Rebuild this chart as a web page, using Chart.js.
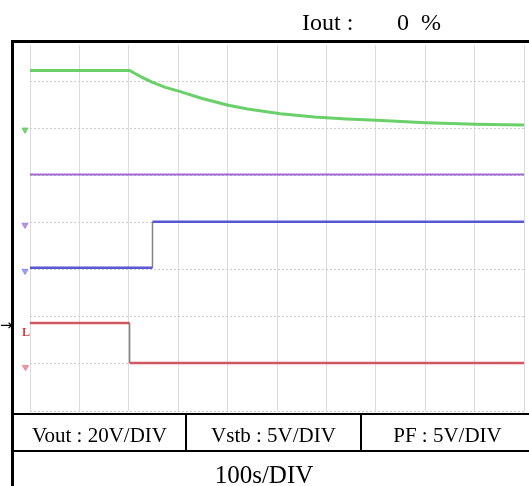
<!DOCTYPE html>
<html><head><meta charset="utf-8">
<script src="https://cdn.jsdelivr.net/npm/chart.js@4/dist/chart.umd.min.js"></script>
<style>
html,body{margin:0;padding:0;background:#fff;}
#wrap{position:relative;width:529px;height:486px;overflow:hidden;font-family:"Liberation Serif","Times New Roman",serif;color:#000;}
#c{position:absolute;left:0;top:0;}
.t{position:absolute;white-space:nowrap;line-height:1;}
.ln{position:absolute;background:#000;}
</style></head><body>
<div id="wrap">
<canvas id="c" width="529" height="486"></canvas>
<div class="ln" style="left:11px;top:40px;width:518px;height:3px"></div>
<div class="ln" style="left:11px;top:40px;width:3px;height:446px"></div>
<div class="ln" style="left:11px;top:413px;width:518px;height:2px"></div>
<div class="ln" style="left:11px;top:450px;width:518px;height:2px"></div>
<div class="ln" style="left:185px;top:413px;width:2px;height:38px"></div>
<div class="ln" style="left:360px;top:413px;width:2px;height:38px"></div>
<div class="t" style="left:302px;top:10px;font-size:24px;">Iout :</div>
<div class="t" style="left:397px;top:10px;font-size:24px;word-spacing:6px;">0 %</div>
<div class="t" style="left:14px;width:171px;top:425px;font-size:21px;text-align:center;">Vout : 20V/DIV</div>
<div class="t" style="left:187px;width:173px;top:425px;font-size:21px;text-align:center;">Vstb : 5V/DIV</div>
<div class="t" style="left:362px;width:171px;top:425px;font-size:21px;text-align:center;">PF : 5V/DIV</div>
<div class="t" style="left:164px;width:200px;top:462px;font-size:25px;text-align:center;">100s/DIV</div>
<div class="t" style="left:0px;top:318px;font-size:15px;font-family:'DejaVu Sans';">&#8594;</div>
<div class="t" style="left:22px;top:326px;font-size:12px;font-weight:bold;color:#d04040;">L</div>
</div>
<script>
// time in seconds (100 s/DIV), levels in screen divisions
const greenTime = [0, 200, 222, 245, 272, 302, 344, 398, 437, 503, 571, 636, 696, 795, 895, 992];
const greenDiv  = [7.23, 7.23, 7.10, 6.98, 6.87, 6.78, 6.64, 6.49, 6.41, 6.31, 6.24, 6.20, 6.17, 6.12, 6.09, 6.07];
const purpleTime = [0, 992];
const purpleDiv  = [5.02, 5.02];
const blueTime = [0, 246, 246, 992];
const blueDiv  = [3.04, 3.04, 4.02, 4.02];
const redTime = [0, 200, 200, 992];
const redDiv  = [1.87, 1.87, 1.02, 1.02];
const markerTime = [-10, -10, -10, -9];
const markerDiv  = [5.97, 3.95, 2.97, 0.93];
const markerColors = ['rgba(90,200,90,0.8)', 'rgba(150,110,220,0.7)', 'rgba(120,120,230,0.7)', 'rgba(230,110,120,0.7)'];

const pts = (xs, ys) => xs.map((x, i) => ({x: x, y: ys[i]}));
const stepGray = c => c.p0.parsed.x === c.p1.parsed.x ? 'rgba(110,110,110,0.85)' : undefined;
const stepWidth = c => c.p0.parsed.x === c.p1.parsed.x ? 1.5 : undefined;

const markerSets = markerTime.map((t, i) => ({
  type: 'scatter', data: [{x: t, y: markerDiv[i]}], showLine: false, clip: false,
  pointStyle: 'triangle', rotation: 180, pointRadius: 3.5,
  backgroundColor: markerColors[i], borderColor: markerColors[i], borderWidth: 1
}));

new Chart(document.getElementById('c'), {
  type: 'line',
  data: {
    datasets: [
      {data: pts(greenTime, greenDiv), borderColor: 'rgba(80,200,80,0.85)', borderWidth: 3, pointRadius: 0, tension: 0, borderJoinStyle: 'round'},
      {data: pts(purpleTime, purpleDiv), borderColor: 'rgba(150,90,205,0.9)', borderWidth: 2, pointRadius: 0},
      {data: pts(blueTime, blueDiv), borderColor: 'rgba(70,70,205,0.9)', borderWidth: 2.5, pointRadius: 0, segment: {borderColor: stepGray, borderWidth: stepWidth}},
      {data: pts(redTime, redDiv), borderColor: 'rgba(205,70,80,0.9)', borderWidth: 2.5, pointRadius: 0, segment: {borderColor: stepGray, borderWidth: stepWidth}}
    ].concat(markerSets)
  },
  options: {
    responsive: false, animation: false, devicePixelRatio: 1,
    layout: {padding: {left: 30, top: 45, right: 0, bottom: 75}},
    plugins: {legend: {display: false}, tooltip: {enabled: false}},
    scales: {
      x: {type: 'linear', min: 0, max: 992, ticks: {display: false, stepSize: 100, includeBounds: false}, grid: {color: '#dcdcdc', drawTicks: false}, border: {display: false}},
      y: {type: 'linear', min: 0, max: 7.77, ticks: {display: false, stepSize: 1, includeBounds: false}, grid: {color: '#cccccc', drawTicks: false}, border: {display: false, dash: [2, 2]}}
    }
  }
});
</script>
</body></html>
